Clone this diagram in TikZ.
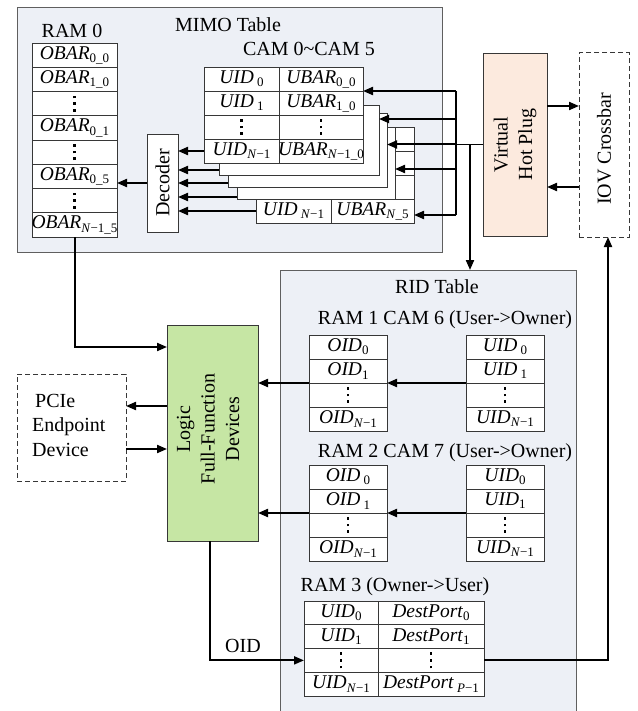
\documentclass[tikz,border=0pt]{standalone}
\usepackage{fontspec}
\setmainfont{Liberation Serif}
\usetikzlibrary{arrows.meta}
\definecolor{panel}{RGB}{237,240,246}
\definecolor{panelline}{RGB}{95,95,95}
\definecolor{peach}{RGB}{252,234,222}
\definecolor{lgreen}{RGB}{198,230,164}
\definecolor{edge}{RGB}{55,55,55}
\newcommand{\sbs}[1]{\raisebox{-0.35ex}{\fontsize{13}{13}\selectfont #1}}
\newcommand{\vd}{\vbox{\offinterlineskip\hbox{\rule{2.6pt}{2.6pt}}\vskip4pt\hbox{\rule{2.6pt}{2.6pt}}\vskip4pt\hbox{\rule{2.6pt}{2.6pt}}}}
\newcommand{\tcol}[6]{\foreach \ct [count=\ci] in {#6}{\node[cell, minimum width=#4pt, minimum height=#5pt] (#1-\ci) at (#2,{#3+(\ci-0.5)*#5}) {\makebox[0pt]{\ct}};}}
\begin{document}
\begin{tikzpicture}[x=1pt,y=-1pt,
  cell/.style={draw=edge, fill=white, line width=0.8pt, inner sep=0pt, outer sep=0pt, font=\fontsize{19.5}{22}\selectfont},
  sheet/.style={draw=edge, fill=white, line width=0.8pt, inner sep=0pt, outer sep=0pt},
  lbl/.style={font=\fontsize{20}{24}\selectfont, inner sep=0pt},
  rlbl/.style={font=\fontsize{20}{24.5}\selectfont, inner sep=0pt, rotate=90, align=center},
  arr/.style={line width=2pt, -{Triangle[length=10pt,width=8pt]}},
  bus/.style={line width=2pt},
  thinl/.style={line width=1pt},
  blk/.style={draw=edge, line width=0.9pt, inner sep=0pt, outer sep=0pt},
  dblk/.style={draw=edge, dash pattern=on 5pt off 3pt, line width=1pt, inner sep=0pt, outer sep=0pt}]
\useasboundingbox (0,0) rectangle (637,711);

% ---------- MIMO panel
\fill[panel] (17,7) rectangle (442,252);
\draw[panelline, line width=0.8pt] (17,7) rectangle (442,252);
\node[lbl] (ram0lbl) at (72,31) {RAM 0};
\node[lbl] (mimolbl) at (228,25) {MIMO Table};
\node[lbl] (camlbl) at (309,49) {CAM 0\textasciitilde CAM 5};

% RAM 0
\tcol{r0}{74.5}{43}{85}{24.25}{\textit{OBAR}\sbs{0\_0},\textit{OBAR}\sbs{1\_0},\vd,\textit{OBAR}\sbs{0\_1},\vd,\textit{OBAR}\sbs{0\_5},\vd,\textit{OBAR}\sbs{\textit{N}−1\_5}}

% Decoder
\node[blk, fill=white, minimum width=31pt, minimum height=98pt] (dec) at (162.5,183) {};
\node[rlbl] (declbl) at (dec.center) {Decoder};

% CAM 5 (back)
\tcol{c5a}{293.5}{127}{75}{24}{{},{},{},\textit{UID}\,\sbs{\textit{N}−1}}
\tcol{c5b}{372.5}{127}{83}{24}{{},{},{},\textit{UBAR}\sbs{\textit{N}\_5}}
% stacked sheets
\node[sheet, minimum width=158pt, minimum height=72pt] (s4) at (316,163) {};
\node[sheet, minimum width=159pt, minimum height=74pt] (s3) at (307.5,150) {};
\node[sheet, minimum width=160pt, minimum height=70pt] (s2) at (299,140) {};
% CAM 0 (front)
\tcol{c0a}{241.5}{67}{75}{24}{\textit{UID}\,\sbs{0},\textit{UID}\,\sbs{1},\vd,\textit{UID}\sbs{\textit{N}−1}}
\tcol{c0b}{321}{67}{84}{24}{\textit{UBAR}\sbs{0\_0},\textit{UBAR}\sbs{1\_0},\vd,\textit{UBAR}\sbs{\textit{N}−1\_0}}

% decoder inputs and output
\draw[arr] (c0a-4.west) -- (dec.east |- c0a-4.west);
\draw[arr] (s2.west |- 0,170) -- (dec.east |- 0,170);
\draw[arr] (s3.west |- 0,183) -- (dec.east |- 0,183);
\draw[arr] (s4.west |- 0,197) -- (dec.east |- 0,197);
\draw[arr] (c5a-4.west) -- (dec.east |- c5a-4.west);
\draw[arr] (dec.west) -- (r0-6.east |- dec.west);

% ---------- Virtual Hot Plug and IOV Crossbar
\node[blk, fill=peach, minimum width=64pt, minimum height=183pt] (vhp) at (515,144.5) {};
\node[rlbl] (vhplbl) at (515,144.5) {Virtual\\Hot Plug};
\node[dblk, minimum width=50pt, minimum height=184pt] (iov) at (604,145) {};
\node[rlbl] (iovlbl) at (604,149) {IOV Crossbar};
\draw[arr] (vhp.east |- 0,106) -- (iov.west |- 0,106);
\draw[arr] (iov.west |- 0,187) -- (vhp.east |- 0,187);

% bus into CAMs
\coordinate (bt) at (456,91);
\coordinate (bb) at (456,215);
\coordinate (bv) at (456,144.5);
\draw[thinl] (vhp.west) -- (bv);
\draw[bus] (bt) -- (bb);
\draw[arr] (bt) -- (c0b-1.south east);
\draw[arr] (456,119) -- (s2.east |- 0,119);
\draw[arr] (bv) -- (s3.east |- bv);
\draw[arr] (456,169) -- (s4.east |- 0,169);
\draw[arr] (bb) -- (c5b-4.east |- bb);

% ---------- RID panel
\fill[panel] (280,270) rectangle (576,711);
\draw[panelline, line width=0.8pt] (280,711) -- (280,270) -- (576,270) -- (576,711);
\coordinate (ridtop) at (470,270);
\draw[arr] (vhp.west -| 470,0) -- (ridtop);
\node[lbl] (ridlbl) at (437,287) {RID Table};
\node[lbl] (ram1lbl) at (445,320) {RAM 1 CAM 6 (User->Owner)};
\node[lbl] (ram2lbl) at (445,453) {RAM 2 CAM 7 (User->Owner)};
\node[lbl] (ram3lbl) at (395,587) {RAM 3 (Owner->User)};

\tcol{o1}{348}{335}{78}{24}{\textit{OID}\sbs{0},\textit{OID}\sbs{1},\vd,\textit{OID}\sbs{\textit{N}−1}}
\tcol{u1}{505}{335}{78}{24}{\textit{UID}\,\sbs{0},\textit{UID}\,\sbs{1},\vd,\textit{UID}\sbs{\textit{N}−1}}
\tcol{o2}{348}{465}{78}{24}{\textit{OID}\,\sbs{0},\textit{OID}\,\sbs{1},\vd,\textit{OID}\sbs{\textit{N}−1}}
\tcol{u2}{505}{465}{78}{24}{\textit{UID}\sbs{0},\textit{UID}\sbs{1},\vd,\textit{UID}\sbs{\textit{N}−1}}
\tcol{r3a}{341}{601}{74}{23.75}{\textit{UID}\sbs{0},\textit{UID}\sbs{1},\vd,\textit{UID}\sbs{\textit{N}−1}}
\tcol{r3b}{431}{601}{106}{23.75}{\textit{DestPort}\sbs{0},\textit{DestPort}\sbs{1},\vd,\textit{DestPort}\,\sbs{\textit{P}−1}}

\draw[arr] (u1-2.south west) -- (o1-2.south east);
\draw[arr] (u2-2.south west) -- (o2-2.south east);

% ---------- Logic and PCIe
\node[blk, fill=lgreen, minimum width=91pt, minimum height=216pt] (logic) at (212.5,433) {};
\node[rlbl] (logiclbl) at (208,429) {Logic\\Full-Function\\Devices};
\node[dblk, minimum width=109pt, minimum height=107pt] (pcie) at (71.5,427.5) {};
\node[lbl, align=left, anchor=west, font=\fontsize{20}{24.5}\selectfont] (pcielbl) at (32,425) {\hspace{3pt}PCIe\\Endpoint\\Device};

\draw[arr] (r0-8.south) |- (logic.west |- 0,347);
\draw[arr] (logic.west |- 0,406) -- (pcie.east |- 0,406);
\draw[arr] (pcie.east |- 0,449) -- (logic.west |- 0,449);
\draw[arr] (o1-2.south west) -- (logic.east |- o1-2.south west);
\draw[arr] (o2-2.south west) -- (logic.east |- o2-2.south west);
\draw[arr] (logic.south -| 210,0) |- (r3a-3.west);
\node[lbl] (oidlbl) at (243,646) {OID};
\draw[arr] (r3b-3.east) -| (iov.south -| 608,0);
\end{tikzpicture}
\end{document}
